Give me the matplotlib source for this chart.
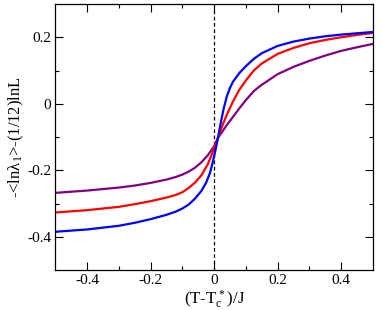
import matplotlib
matplotlib.use("Agg")
import matplotlib.pyplot as plt
from matplotlib.ticker import FixedLocator

plt.rcParams['font.family'] = ['Liberation Serif', 'DejaVu Serif']
plt.rcParams['mathtext.fontset'] = 'custom'
plt.rcParams['mathtext.rm'] = 'Liberation Serif'
plt.rcParams['mathtext.it'] = 'Liberation Serif'
plt.rcParams['axes.unicode_minus'] = False

x_blue = [-0.5, -0.4, -0.3, -0.25, -0.2, -0.15, -0.12, -0.1, -0.08, -0.06, -0.04, -0.025, -0.013,
          -0.005, 0.003, 0.012, 0.02, 0.03, 0.04, 0.05, 0.06, 0.08, 0.1, 0.125, 0.15, 0.2, 0.25,
          0.3, 0.35, 0.4, 0.45, 0.5]
y_blue = [-0.385, -0.378, -0.367, -0.358, -0.347, -0.334, -0.324, -0.315, -0.303, -0.285, -0.262,
          -0.237, -0.208, -0.178, -0.145, -0.103, -0.062, -0.015, 0.022, 0.048, 0.067, 0.093, 0.113,
          0.135, 0.152, 0.174, 0.187, 0.196, 0.203, 0.208, 0.212, 0.216]

x_red = [-0.5, -0.4, -0.3, -0.25, -0.2, -0.15, -0.12, -0.1, -0.08, -0.06, -0.04, -0.02, -0.007,
         0.0, 0.012, 0.025, 0.04, 0.06, 0.08, 0.1, 0.125, 0.15, 0.2, 0.25, 0.3, 0.35, 0.4, 0.45, 0.5]
y_red = [-0.327, -0.32, -0.31, -0.302, -0.293, -0.282, -0.274, -0.266, -0.253, -0.237, -0.215,
         -0.182, -0.152, -0.132, -0.103, -0.068, -0.033, 0.008, 0.043, 0.07, 0.1, 0.121, 0.15, 0.168,
         0.182, 0.192, 0.2, 0.207, 0.213]

x_purple = [-0.5, -0.4, -0.3, -0.25, -0.2, -0.15, -0.12, -0.1, -0.08, -0.06, -0.04, -0.02, 0.0,
            0.012, 0.02, 0.04, 0.063, 0.08, 0.1, 0.126, 0.15, 0.2, 0.25, 0.3, 0.35, 0.4, 0.45, 0.5]
y_purple = [-0.268, -0.261, -0.252, -0.246, -0.238, -0.228, -0.220, -0.213, -0.204, -0.192, -0.176,
            -0.155, -0.128, -0.103, -0.092, -0.064, -0.035, -0.013, 0.011, 0.039, 0.057, 0.089,
            0.111, 0.129, 0.145, 0.159, 0.17, 0.18]

x_ticks = [-0.4, -0.2, 0, 0.2, 0.4]
x_ticklabels = ['-0.4', '-0.2', '0', '0.2', '0.4']
y_ticks = [-0.4, -0.2, 0, 0.2]
y_ticklabels = ['-0.4', '-0.2', '0', '0.2']

fig = plt.figure(figsize=(3.82, 3.10), dpi=100)
ax = fig.add_axes([0.145, 0.129, 0.831, 0.858])

ax.axvline(0, color='black', linestyle=(0, (3, 2)), linewidth=0.9)
ax.plot(x_purple, y_purple, color='#800080', linewidth=1.6)
ax.plot(x_red, y_red, color='#ff0000', linewidth=1.6)
ax.plot(x_blue, y_blue, color='#0000ff', linewidth=1.6)

ax.set_xlim(-0.5, 0.5)
ax.set_ylim(-0.5, 0.3)
ax.set_xticks(x_ticks)
ax.set_xticklabels(x_ticklabels)
ax.set_yticks(y_ticks)
ax.set_yticklabels(y_ticklabels)
ax.xaxis.set_minor_locator(FixedLocator([-0.3, -0.1, 0.1, 0.3]))
ax.yaxis.set_minor_locator(FixedLocator([-0.3, -0.1, 0.1]))
ax.tick_params(which='both', direction='in', top=True, right=True, labelsize=11, width=0.8)
ax.tick_params(which='major', length=6, pad=3)
ax.tick_params(which='minor', length=3)
for s in ax.spines.values():
    s.set_linewidth(0.9)

ax.set_xlabel('(T-T$_{\\mathrm{c}}^{\\,*}$)/J', fontsize=12, labelpad=1)
ax.set_ylabel('-<ln\u03bb$_{1}$>-(1/12)lnL', fontsize=12, labelpad=1)

fig.savefig('out.png', dpi=100)
